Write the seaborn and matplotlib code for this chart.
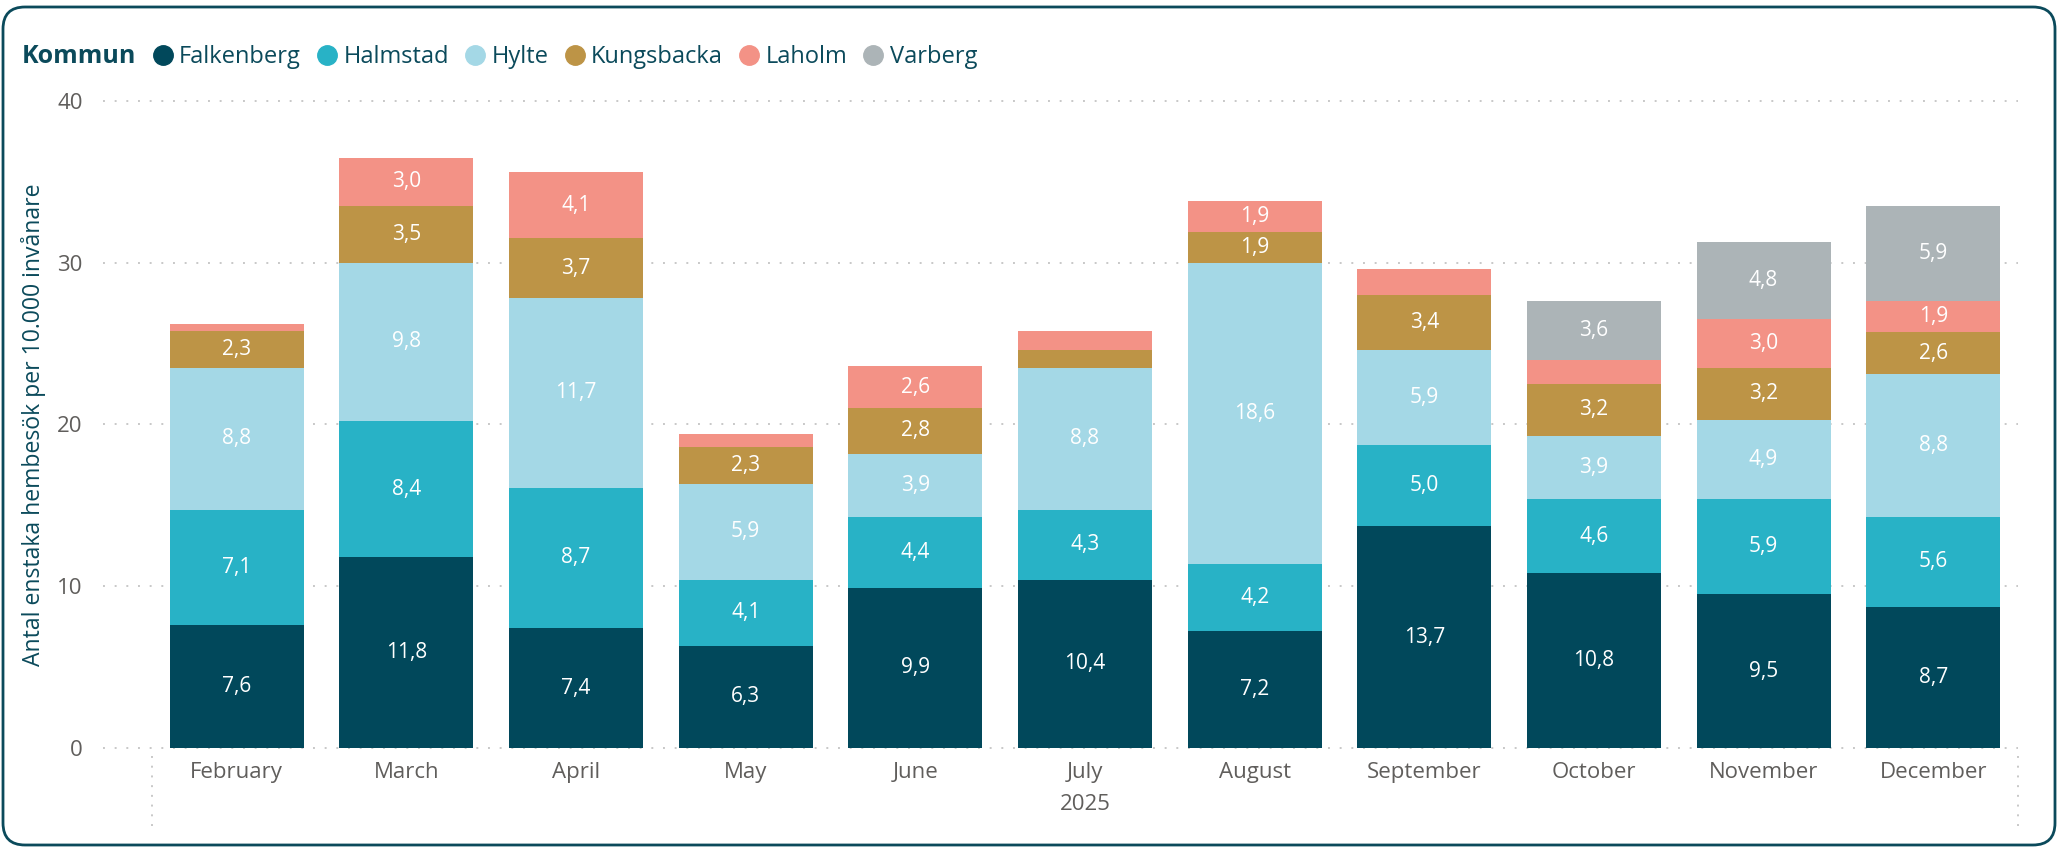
import matplotlib
matplotlib.use('Agg')
import matplotlib.pyplot as plt
import matplotlib.transforms as mtransforms
from matplotlib.lines import Line2D
from matplotlib.patches import FancyBboxPatch
import numpy as np
import pandas as pd
import seaborn as sns

months = ['February', 'March', 'April', 'May', 'June', 'July', 'August',
          'September', 'October', 'November', 'December']
kommuner = ['Falkenberg', 'Halmstad', 'Hylte', 'Kungsbacka', 'Laholm', 'Varberg']

falkenberg = [7.6, 11.8, 7.4, 6.3, 9.9, 10.4, 7.2, 13.7, 10.8, 9.5, 8.7]
halmstad = [7.1, 8.4, 8.7, 4.1, 4.4, 4.3, 4.2, 5.0, 4.6, 5.9, 5.6]
hylte = [8.8, 9.8, 11.7, 5.9, 3.9, 8.8, 18.6, 5.9, 3.9, 4.9, 8.8]
kungsbacka = [2.3, 3.5, 3.7, 2.3, 2.8, 1.1, 1.9, 3.4, 3.2, 3.2, 2.6]
laholm = [0.4, 3.0, 4.1, 0.8, 2.6, 1.2, 1.9, 1.6, 1.5, 3.0, 1.9]
varberg = [0, 0, 0, 0, 0, 0, 0, 0, 3.6, 4.8, 5.9]

series = [falkenberg, halmstad, hylte, kungsbacka, laholm, varberg]
colors = ['#01485B', '#28B2C6', '#A4D8E6', '#BD9446', '#F39286', '#ACB4B7']

teal = '#0B4A5B'
gray = '#605E5C'

sns.set_style('white')
plt.rcParams['font.family'] = ['Open Sans', 'DejaVu Sans']

fig = plt.figure(figsize=(20.62, 8.48), dpi=100)
ax = fig.add_axes([0.0737, 0.118, 0.905, 0.763])

# stacked bars, one seaborn call per kommun
bottom = np.zeros(len(months))
for name, vals, col in zip(kommuner, series, colors):
    df = pd.DataFrame({'month': months, 'value': vals})
    sns.barplot(data=df, x='month', y='value', color=col, saturation=1,
                width=0.79, bottom=bottom, ax=ax, zorder=2, linewidth=0,
                edgecolor='none')
    for i, v in enumerate(vals):
        if v >= 1.8:
            ax.text(i, bottom[i] + v / 2, f'{v:.1f}'.replace('.', ','),
                    ha='center', va='center', color='white', fontsize=15, zorder=3)
    bottom = bottom + np.array(vals)

ax.set_xlim(-0.5, len(months) - 0.5)
ax.set_ylim(0, 40)
ax.set_yticks([0, 10, 20, 30, 40])
sns.despine(ax=ax, left=True, bottom=True)
ax.tick_params(axis='y', length=0, pad=50, labelsize=16, labelcolor=gray)
ax.tick_params(axis='x', length=0, pad=10, labelsize=16, labelcolor=gray)
ax.set_xlabel('')
ax.set_ylabel('Antal enstaka hembesök per 10.000 invånare', fontsize=16.6, color=teal)
ax.yaxis.set_label_coords(-0.057, 0.5)

# dotted grid reaching into the tick label area
for y in [0, 10, 20, 30, 40]:
    ax.plot([-0.026, 1], [y, y], transform=ax.get_yaxis_transform(),
            ls=(0, (1, 5)), color='#C8C8C8', lw=1.4, clip_on=False, zorder=0.5)

# hierarchy separators and year label
for x in [-0.5, len(months) - 0.5]:
    ax.plot([x, x], [-0.012, -0.125], transform=ax.get_xaxis_transform(),
            ls=(0, (1, 4)), color='#C8C8C8', lw=1.4, clip_on=False)
ax.text(5, -0.088, '2025', transform=ax.get_xaxis_transform(),
        ha='center', va='center', fontsize=16, color=gray)

# legend
fig.text(0.0107, 0.933, 'Kommun', fontsize=18, fontweight='bold', color=teal,
         ha='left', va='center')
handles = [Line2D([], [], marker='o', linestyle='', markersize=14,
                  markerfacecolor=c, markeredgecolor=c) for c in colors]
leg = fig.legend(handles, kommuner, loc='center left', bbox_to_anchor=(0.0743, 0.933),
                 ncol=6, frameon=False, fontsize=17, handlelength=0.8,
                 handletextpad=0.3, columnspacing=0.7, borderpad=0, borderaxespad=0)
for t in leg.get_texts():
    t.set_color(teal)

# rounded border
fig.patches.append(FancyBboxPatch((3, 3), 2052, 838,
                                  boxstyle='round,pad=0,rounding_size=22',
                                  transform=mtransforms.IdentityTransform(),
                                  fill=False, ec=teal, lw=2))

fig.savefig('out.png', dpi=100)
